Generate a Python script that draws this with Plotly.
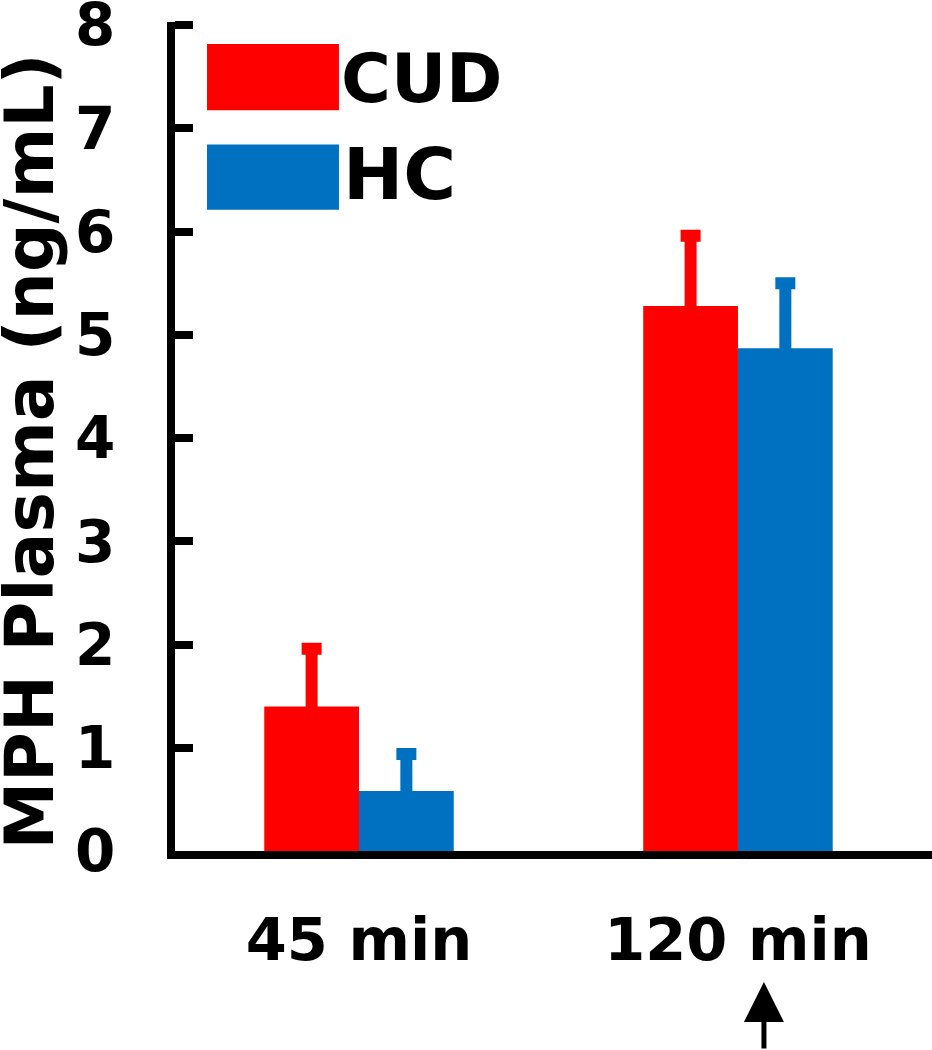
import plotly.graph_objects as go

# data
times = ['45 min', '120 min']
cud_mean = [1.40, 5.28]
cud_err = [0.56, 0.68]
hc_mean = [0.58, 4.87]
hc_err = [0.36, 0.63]
y_ticks = [0, 1, 2, 3, 4, 5, 6, 7, 8]

RED = '#FF0000'
BLUE = '#0070C0'
FONT = 'DejaVu Sans'

fig = go.Figure()
fig.add_trace(go.Bar(x=times, y=cud_mean, name='CUD', marker=dict(color=RED, line=dict(width=0)),
                     error_y=dict(type='data', array=cud_err, color=RED, thickness=12, width=10)))
fig.add_trace(go.Bar(x=times, y=hc_mean, name='HC', marker=dict(color=BLUE, line=dict(width=0)),
                     error_y=dict(type='data', array=hc_err, color=BLUE, thickness=12, width=10)))

fig.update_layout(
    width=932, height=1050,
    margin=dict(l=175, r=0, t=22, b=199, autoexpand=False),
    plot_bgcolor='white', paper_bgcolor='white',
    barmode='group', bargap=0.5, bargroupgap=0,
    showlegend=False,
    font=dict(family=FONT, color='black', weight='bold'),
)
fig.update_xaxes(range=[-0.4855, 1.512], showline=True, linecolor='black', linewidth=8,
                 ticks='', showgrid=False, zeroline=False, automargin=False,
                 tickfont=dict(size=59, family=FONT, weight='bold'), ticklabelstandoff=30)
# top of range a hair above 8 so the 8 tick is not clipped at the edge
fig.update_yaxes(range=[0, 8.03], tickvals=y_ticks, showline=True, linecolor='black', linewidth=8,
                 ticks='inside', ticklen=18, tickwidth=8, tickcolor='black',
                 showgrid=False, zeroline=False, automargin=False, ticklabeloverflow='allow',
                 tickfont=dict(size=58, family=FONT, weight='bold'), ticklabelstandoff=40)

# legend drawn by hand to get the big colour blocks
fig.add_shape(type='rect', xref='paper', yref='paper', x0=0.0423, x1=0.2166, y0=0.8935, y1=0.9734,
              fillcolor=RED, line=dict(width=0))
fig.add_shape(type='rect', xref='paper', yref='paper', x0=0.0423, x1=0.2166, y0=0.7736, y1=0.8523,
              fillcolor=BLUE, line=dict(width=0))
fig.add_annotation(text='CUD', xref='paper', yref='paper', x=0.216, y=0.9322, xanchor='left', yanchor='middle',
                   showarrow=False, font=dict(size=68, family=FONT, weight='bold', color='black'))
fig.add_annotation(text='HC', xref='paper', yref='paper', x=0.219, y=0.8172, xanchor='left', yanchor='middle',
                   showarrow=False, font=dict(size=72, family=FONT, weight='bold', color='black'))

# y axis title
fig.add_annotation(text='MPH Plasma (ng/mL)', xref='paper', yref='paper', x=-0.1915, y=0.4818,
                   xanchor='center', yanchor='middle', textangle=-90, showarrow=False,
                   font=dict(size=68, family=FONT, weight='bold', color='black'))

# arrow under 120 min
fig.add_annotation(text='', xref='paper', yref='paper', x=0.778, y=-0.158, ax=0, ay=72,
                   showarrow=True, arrowhead=2, arrowsize=1.6, arrowwidth=5, arrowcolor='black')

# drop the default 8px body margin so the figure fills the window
fig.write_html('out.html', config={'displayModeBar': False},
               post_script="document.body.style.margin='0';")
